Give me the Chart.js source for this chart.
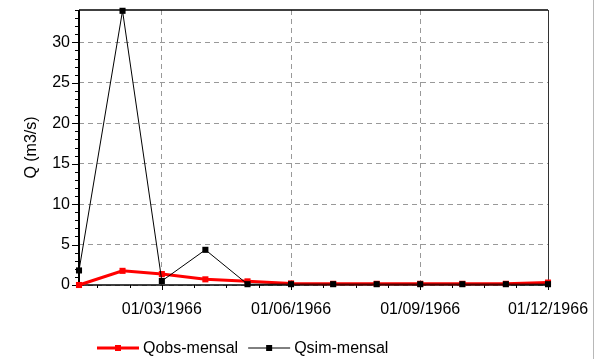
<!DOCTYPE html>
<html><head><meta charset="utf-8">
<script src="https://cdn.jsdelivr.net/npm/chart.js@4/dist/chart.umd.min.js"></script>
<style>html,body{margin:0;padding:0;background:#fff;overflow:hidden}#wrap{width:596px;height:359px;position:relative}</style>
</head><body><div id="wrap"><canvas id="c" width="596" height="359"></canvas></div>
<script>
// days since 01/01/1966 for the first day of each month
const monthDays = [0, 31, 59, 90, 120, 151, 181, 212, 243, 273, 304, 334];
const qObs = [0.0, 1.75, 1.35, 0.7, 0.45, 0.2, 0.15, 0.15, 0.15, 0.15, 0.15, 0.3];
const qSim = [1.8, 33.9, 0.5, 4.35, 0.1, 0.1, 0.1, 0.1, 0.1, 0.1, 0.1, 0.1];
const seriesLabels = ['Qobs-mensal', 'Qsim-mensal'];
const xTickDays = [59, 151, 243, 334];
const xTickLabels = ['01/03/1966', '01/06/1966', '01/09/1966', '01/12/1966'];
const yTicks = [0, 5, 10, 15, 20, 25, 30];
const yMin = 0, yMax = 34, xMin = 0, xMax = 334;
const FONT = 'Liberation Sans, Arial, sans-serif';

const toPts = arr => arr.map((v, i) => ({x: monthDays[i], y: v}));

const framePlugin = {
  id: 'frame',
  beforeDatasetsDraw(chart) {
    const {ctx, chartArea: a, scales: {x, y}} = chart;
    ctx.save();
    ctx.strokeStyle = '#000'; ctx.lineWidth = 1.5;
    ctx.beginPath(); ctx.moveTo(a.left, a.top); ctx.lineTo(a.right, a.top); ctx.stroke();
    ctx.strokeStyle = '#333'; ctx.lineWidth = 1;
    ctx.beginPath(); ctx.moveTo(a.right + 0.5, a.top); ctx.lineTo(a.right + 0.5, a.bottom); ctx.stroke();
    ctx.strokeStyle = '#000'; ctx.lineWidth = 1;
    for (let v = yMin; v <= yMax; v++) {
      const py = Math.round(y.getPixelForValue(v)) + 0.5;
      const len = yTicks.includes(v) ? 7 : 4;
      ctx.beginPath(); ctx.moveTo(a.left - len, py); ctx.lineTo(a.left, py); ctx.stroke();
    }
    const xs = [];
    const step = (xTickDays[1] - xTickDays[0]) / 4;
    for (let d = xTickDays[0] - step; d >= xMin; d -= step) xs.push([d, 3]);
    for (let i = 0; i < xTickDays.length; i++) {
      xs.push([xTickDays[i], 5]);
      if (i < xTickDays.length - 1) {
        const s = (xTickDays[i + 1] - xTickDays[i]) / 4;
        for (let k = 1; k < 4; k++) xs.push([xTickDays[i] + k * s, 3]);
      }
    }
    xs.forEach(([d, len]) => {
      const px = Math.round(x.getPixelForValue(d)) + 0.5;
      ctx.beginPath(); ctx.moveTo(px, a.bottom); ctx.lineTo(px, a.bottom + len); ctx.stroke();
    });
    ctx.strokeStyle = '#000'; ctx.lineWidth = 2;
    ctx.beginPath(); ctx.moveTo(a.left, a.top); ctx.lineTo(a.left, a.bottom + 1); ctx.stroke();
    ctx.lineWidth = 1.5;
    ctx.beginPath(); ctx.moveTo(a.left, a.bottom); ctx.lineTo(a.right, a.bottom); ctx.stroke();
    ctx.restore();
  },
  afterDraw(chart) {
    const {ctx} = chart;
    ctx.save();
    const ly = 348;
    let lx = 97;
    ctx.font = '16px ' + FONT;
    ctx.textBaseline = 'middle';
    chart.data.datasets.forEach((ds, i) => {
      ctx.strokeStyle = ds.borderColor; ctx.lineWidth = ds.borderWidth;
      ctx.beginPath(); ctx.moveTo(lx, ly); ctx.lineTo(lx + 42, ly); ctx.stroke();
      ctx.fillStyle = ds.pointBackgroundColor;
      ctx.fillRect(lx + 18, ly - 3, 6, 6);
      ctx.fillStyle = '#000';
      ctx.fillText(ds.label, lx + 46, ly + 1);
      lx += 46 + ctx.measureText(ds.label).width + 10;
    });
    ctx.fillStyle = '#fff';
    ctx.fillRect(594, 0, 2, 359);
    ctx.strokeStyle = '#b8b8b8'; ctx.lineWidth = 1;
    ctx.beginPath(); ctx.moveTo(593.5, 0); ctx.lineTo(593.5, 359); ctx.stroke();
    ctx.restore();
  }
};

new Chart(document.getElementById('c'), {
  type: 'line',
  data: {
    datasets: [
      {label: seriesLabels[0], data: toPts(qObs), borderColor: '#ff0000', backgroundColor: '#ff0000',
       pointBackgroundColor: '#ff0000', pointBorderColor: '#ff0000', borderWidth: 3, pointRadius: 4.3,
       pointBorderWidth: 0, pointStyle: 'rect', tension: 0, clip: false, order: 2},
      {label: seriesLabels[1], data: toPts(qSim), borderColor: '#000000', backgroundColor: '#000000',
       pointBackgroundColor: '#000000', pointBorderColor: '#000000', borderWidth: 1, pointRadius: 4.3,
       pointBorderWidth: 0, pointStyle: 'rect', tension: 0, clip: false, order: 1}
    ]
  },
  options: {
    responsive: false, animation: false, devicePixelRatio: 1,
    layout: {padding: {left: 0, right: 48, top: 10, bottom: 0}},
    plugins: {legend: {display: false}, tooltip: {enabled: false}},
    scales: {
      x: {
        type: 'linear', min: xMin, max: xMax,
        afterBuildTicks: s => { s.ticks = xTickDays.map(v => ({value: v})); },
        afterFit: s => { s.height = 74; s.paddingLeft = 0; s.paddingRight = 0; },
        ticks: {autoSkip: false, maxRotation: 0, minRotation: 0, padding: 15, color: '#000',
          font: {family: FONT, size: 16},
          callback: v => xTickLabels[xTickDays.indexOf(v)]},
        grid: {color: '#999', lineWidth: 1, drawTicks: false},
        border: {display: false, dash: [5, 4]}
      },
      y: {
        min: yMin, max: yMax,
        afterBuildTicks: s => { s.ticks = yTicks.map(v => ({value: v})); },
        afterFit: s => { s.width = 79; s.paddingTop = 0; s.paddingBottom = 0; },
        ticks: {padding: 9, color: '#000', font: {family: FONT, size: 16}},
        grid: {color: '#999', lineWidth: 1, drawTicks: false},
        border: {display: false, dash: [5, 4]},
        title: {display: true, text: 'Q (m3/s)', color: '#000', font: {family: FONT, size: 16},
          padding: {top: 22, bottom: 0}}
      }
    }
  },
  plugins: [framePlugin]
});
</script></body></html>
